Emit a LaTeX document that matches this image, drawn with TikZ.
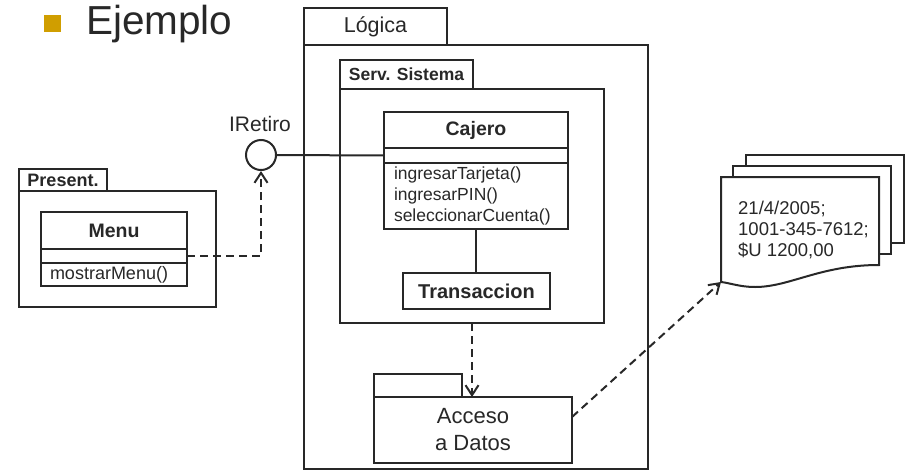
\documentclass[tikz,border=0pt]{standalone}
\usepackage{fontspec}
\setmainfont{Liberation Sans}
\usetikzlibrary{arrows.meta, calc, positioning}
\definecolor{linegray}{RGB}{40,40,40}
\definecolor{bulletgold}{RGB}{208,158,0}
\newcommand{\fsz}[1]{\fontsize{#1}{#1}\selectfont}

\begin{document}
\begin{tikzpicture}[x=1pt,y=-1pt,line join=miter,>={Straight Barb[length=10pt,width=13pt]},
  every node/.style={text=linegray},
  box/.style={draw=linegray, line width=2pt, fill=white, inner sep=0pt, outer sep=0pt, anchor=north west},
  link/.style={draw=linegray, line width=2pt},
  dep/.style={link, dash pattern=on 8pt off 5pt, ->}]
\useasboundingbox (0,0) rectangle (909,474);

% Title
\fill [bulletgold] (44,15) rectangle (61,32);
\node [anchor=base west, inner sep=0pt, font=\fsz{40.5}] (title) at (86,34) {Ejemplo};

% Package Logica
\node [box, minimum width=143, minimum height=37, font=\fsz{21.5}] (logtab) at (304,8) {L\'ogica};
\node [box, minimum width=344, minimum height=424] (logbox) at (304,45) {};

% Package Serv. Sistema
\node [box, minimum width=133, minimum height=29, font=\bfseries\fsz{17.5}] (sertab) at (340,60) {Serv. Sistema};
\node [box, minimum width=264, minimum height=234] (serbox) at (340,89) {};

% Class Cajero
\node [box, minimum width=184, minimum height=36, font=\bfseries\fsz{19.5}] (cajname) at (384,112) {Cajero};
\node [box, minimum width=184, minimum height=15, below=0pt of cajname.south west, anchor=north west] (cajatr) {};
\node [box, text width=164, inner xsep=10pt, minimum height=66, align=left, below=0pt of cajatr.south west, anchor=north west,
  font=\fontsize{17.5}{21}\selectfont] (cajmet) {ingresarTarjeta()\\ingresarPIN()\\seleccionarCuenta()};

% Class Transaccion
\node [box, minimum width=147, minimum height=36, font=\bfseries\fsz{20}] (trans) at (403,273) {Transaccion};
\draw [link] (cajmet.south) -- (trans.north -| cajmet.south);

% Interface IRetiro
\node [circle, draw=linegray, line width=2pt, fill=white, minimum size=30pt, inner sep=0pt] (iface) at (261,155) {};
\node [font=\fsz{21}, inner sep=0pt, anchor=base] (ifname) at (260,131) {IRetiro};
\draw [link] (iface.east) -- (cajatr.west);

% Package Present.
\node [box, minimum width=88, minimum height=22, font=\bfseries\fsz{18}] (pretab) at (19,169) {Present.};
\node [box, minimum width=197, minimum height=116] (prebox) at (19,191) {};

% Class Menu
\node [box, minimum width=146, minimum height=37, font=\bfseries\fsz{19.5}] (menuname) at (41,212) {Menu};
\node [box, minimum width=146, minimum height=14, below=0pt of menuname.south west, anchor=north west] (menuatr) {};
\node [box, text width=128, inner xsep=9pt, minimum height=23, align=left, below=0pt of menuatr.south west, anchor=north west,
  font=\fsz{18}] (menumet) {mostrarMenu()};
\draw [dep] (menuatr.east) -| (iface.south);

% Package Acceso a Datos
\node [box, minimum width=88, minimum height=23] (acctab) at (374,374) {};
\node [box, minimum width=198, minimum height=66, align=center, font=\fontsize{22}{27}\selectfont] (accbox) at (374,397) {Acceso\\a Datos};
\draw [dep] (serbox.south) -- (serbox.south |- accbox.north);

% Documents
\draw [box] (746,155) rectangle (904,243);
\draw [box] (733,166) rectangle (891,254);
\coordinate (docsw) at (721,282);
\draw [box] (docsw) -- (721,177) -- (879,177) -- (879,265)
  .. controls (820,265) and (790,287) .. (755,287)
  .. controls (740,287) and (730,283) .. (docsw);
\node [anchor=north west, inner sep=0pt, align=left, font=\fontsize{18.5}{21}\selectfont] (doctext) at (738,201)
  {21/4/2005;\\1001-345-7612;\\\$U 1200,00};
\draw [dep] ($(accbox.east)+(0,-13)$) -- (docsw);
\end{tikzpicture}
\end{document}
